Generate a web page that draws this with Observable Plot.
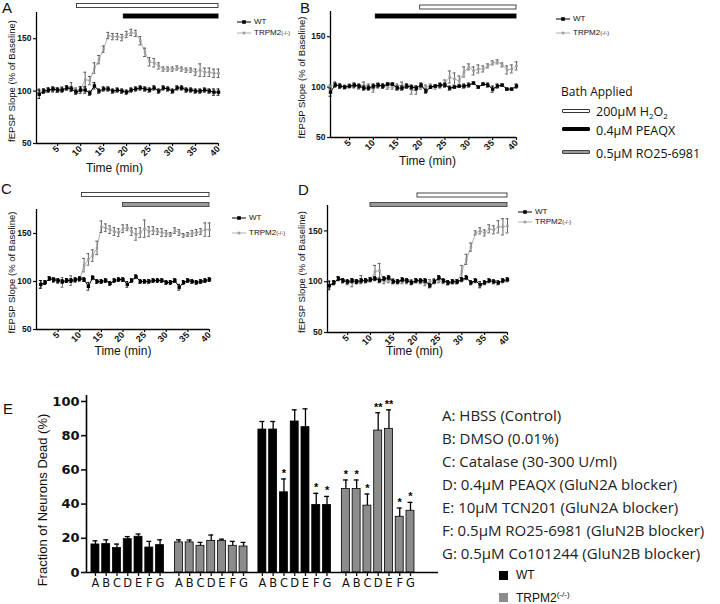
<!DOCTYPE html>
<html><head><meta charset="utf-8">
<script src="https://cdn.jsdelivr.net/npm/d3@7"></script>
<script src="https://cdn.jsdelivr.net/npm/@observablehq/plot@0.6"></script>
<style>
body{margin:0;background:#fff}
#fig{position:relative;width:720px;height:604px;overflow:hidden;background:#fff;font-family:"Liberation Sans",Arial,sans-serif;color:#111}
#fig svg{position:absolute;background:transparent}
.letter{position:absolute;font-size:15px;line-height:1}
.lg{position:absolute;font-size:8px;line-height:10px;height:10px;display:flex;align-items:center;white-space:nowrap}
.lg sup{font-size:5.5px;line-height:0;vertical-align:3px}
.lg svg{position:static !important;margin-right:3px}
.os{font-family:"Open Sans",sans-serif}
.bar{position:absolute;width:28px;height:4px;box-sizing:border-box}
.row{position:absolute;white-space:nowrap;line-height:1;transform:translateY(-50%)}
</style>
</head><body><div id="fig"></div>
<script>
// ---------- time-course data (fEPSP slope, % of baseline) ----------
const minutes = [1,2,3,4,5,6,7,8,9,10,11,12,13,14,15,16,17,18,19,20,21,22,23,24,25,26,27,28,29,30,31,32,33,34,35,36,37,38,39,40];
const xTicks = [5,10,15,20,25,30,35,40];
const yTicks = [50,100,150];

const A_WT     = [97,100,101,102,101,101,103,102,99,101,101,98,105,100,102,102,100,101,100,99,101,102,103,102,101,103,100,103,102,100,103,103,101,101,100,100,101,100,99,99];
const A_WT_err = [4,2,2,2,2,2,2,2,2,3,3,2,3,2,2,2,2,2,2,2,2,2,2,2,2,2,2,2,2,2,2,2,2,2,2,2,2,2,3,3];
const A_TR     = [100,100,101,101,101,102,103,104,101,102,111,110,122,130,140,153,152,152,151,154,156,155,148,137,128,127,124,121,121,121,122,121,120,120,118,120,118,118,117,117];
const A_TR_err = [2,2,2,2,2,2,2,4,2,2,7,4,5,4,3,3,3,3,3,3,3,3,4,4,4,4,3,2,2,2,2,2,2,2,3,6,4,4,4,4];

const B_WT     = [95,102,101,100,101,102,101,99,99,101,102,101,103,103,99,99,101,100,99,102,96,100,101,102,102,99,100,101,101,102,104,100,103,102,98,101,102,98,98,101];
const B_WT_err = [4,2,2,1,1,2,2,2,2,2,2,2,1,1,2,2,2,2,2,2,2,1,1,2,2,2,1,1,2,2,1,1,1,2,3,2,1,1,1,2];
const B_TR     = [100,103,101,100,101,101,100,102,101,98,101,101,100,100,101,102,101,97,97,100,100,101,100,101,104,110,108,106,115,120,116,118,118,121,124,125,122,117,118,121];
const B_TR_err = [2,2,2,2,2,2,2,3,2,3,2,2,2,2,2,3,2,4,4,2,2,2,2,2,3,6,6,5,5,3,4,4,3,2,2,2,2,4,4,4];

const C_WT     = [97,99,103,102,101,100,101,101,102,103,102,95,104,100,100,101,98,101,102,102,97,101,105,100,100,100,101,101,101,99,99,101,94,99,101,100,99,100,101,102];
const C_WT_err = [4,2,2,2,2,2,2,2,2,2,2,4,2,2,2,2,2,2,2,2,3,2,2,2,2,2,2,2,2,2,2,2,3,2,2,2,2,2,2,2];
const C_TR     = [97,99,103,101,100,99,101,101,101,102,117,123,127,135,157,156,154,152,151,155,156,152,149,151,155,152,153,152,151,150,149,153,151,148,149,150,151,152,154,154];
const C_TR_err = [4,2,2,2,2,5,2,5,2,2,7,6,6,7,6,4,4,4,4,4,3,4,6,5,9,5,4,3,4,3,2,3,3,2,2,3,3,3,7,7];

const D_WT     = [96,99,103,101,100,101,100,101,101,102,103,101,103,104,100,100,102,101,99,101,101,101,96,100,104,101,99,100,100,102,104,99,101,97,99,101,100,99,101,102];
const D_WT_err = [4,2,2,2,2,2,2,2,2,2,2,2,2,2,2,2,2,2,2,2,2,2,2,2,2,2,2,2,2,2,2,2,2,3,2,2,2,2,2,2];
const D_TR     = [97,99,103,101,99,99,100,102,101,102,110,111,100,101,101,100,100,100,100,101,100,98,100,101,101,100,99,100,100,110,122,134,148,150,148,152,151,154,154,155];
const D_TR_err = [4,2,2,2,2,4,2,4,2,2,6,7,2,2,2,2,2,2,2,2,2,2,2,2,2,2,2,2,2,6,5,4,2,3,3,4,4,6,8,7];

// bath application start times (min); all run to the end of recording
const A_drugs = [{drug:"H2O2", start:9.2}, {drug:"PEAQX", start:19.4}];
const B_drugs = [{drug:"H2O2", start:19.8}, {drug:"PEAQX", start:10.5}];
const C_drugs = [{drug:"H2O2", start:10.5}, {drug:"RO25", start:20}];
const D_drugs = [{drug:"H2O2", start:20.3}, {drug:"RO25", start:10}];

// ---------- panel E: fraction of neurons dead (%) ----------
const treatLetters = ["A","B","C","D","E","F","G"];
const E_groups = ["WT","TRPM2","WT","TRPM2"];
const E_mean = [
  [16.4,16.6,14.3,19.5,20.9,14.6,16.0],
  [17.6,17.6,15.6,18.5,18.5,15.6,15.2],
  [83.6,83.6,46.9,88.3,85.0,39.5,39.5],
  [48.8,48.8,39.1,83.0,84.0,32.6,36.1]
];
const E_err = [
  [2.1,2.5,2.3,1.5,1.6,3.6,3.1],
  [1.5,1.4,2.0,3.4,1.0,2.6,2.4],
  [4.7,4.7,7.8,6.8,10.7,6.8,5.0],
  [5.3,5.3,6.8,10.4,11.1,5.1,4.9]
];
const E_stars = [
  ["","","","","","",""],
  ["","","","","","",""],
  ["","","*","","","*","*"],
  ["*","*","*","**","**","*","*"]
];
const E_yTicks = [0,20,40,60,80,100];
const treatNames = [
  "A: HBSS (Control)",
  "B: DMSO (0.01%)",
  "C: Catalase (30-300 U/ml)",
  "D: 0.4\u00b5M PEAQX (GluN2A blocker)",
  "E: 10\u00b5M TCN201 (GluN2A blocker)",
  "F: 0.5\u00b5M RO25-6981 (GluN2B blocker)",
  "G: 0.5\u00b5M Co101244 (GluN2B blocker)"
];

// ---------- drawing ----------
const fig = document.getElementById("fig");
const FONT = "Liberation Sans, Arial, sans-serif";
const drugStyle = {
  H2O2:  {fill:"#fff", stroke:"#333"},
  PEAQX: {fill:"#000", stroke:"#000"},
  RO25:  {fill:"#999", stroke:"#444"}
};

function place(el, left, top){ el.style.left = left+"px"; el.style.top = top+"px"; fig.appendChild(el); return el; }

function tsPanel(c){
  const ppu = (c.h - c.mT - c.mB) / 125;
  const rows = (m, e) => minutes.map((t,i) => ({t, v:m[i], lo:m[i]-e[i], hi:m[i]+e[i]}));
  const W = rows(c.wt, c.wtE), T = rows(c.tr, c.trE);
  const caps = r => r.flatMap(d => [{t:d.t, y:d.lo}, {t:d.t, y:d.hi}]);
  const barRows = c.drugs.map(d => {
    const off = c.barOff[d.drug];
    return {x1:d.start, x2:40, y1:175 - (off-2)/ppu, y2:175 - (off+2)/ppu, ...drugStyle[d.drug]};
  });
  const series = (R, col, ecol, sw, r) => [
    Plot.line(R, {x:"t", y:"v", stroke:col, strokeWidth:sw}),
    Plot.ruleX(R, {x:"t", y1:"lo", y2:"hi", stroke:ecol, strokeWidth:0.9}),
    Plot.ruleY(caps(R), {y:"y", x1:d=>d.t-0.32, x2:d=>d.t+0.32, stroke:ecol, strokeWidth:0.9}),
    Plot.dot(R, {x:"t", y:"v", symbol:"square", r, fill:col, stroke:null})
  ];
  const svg = Plot.plot({
    width:c.w, height:c.h, marginLeft:c.mL, marginRight:c.mR, marginTop:c.mT, marginBottom:c.mB,
    x:{domain:[c.xMin,40]}, y:{domain:[50,175]},
    style:{fontFamily:FONT, background:"transparent", overflow:"visible", color:"#111"},
    marks:[
      ...barRows.map(b => Plot.rect([b], {x1:"x1", x2:"x2", y1:"y1", y2:"y2", fill:b.fill, stroke:b.stroke, strokeWidth:0.9, clip:false})),
      Plot.ruleX([c.xMin], {y1:50, y2:175, stroke:"#000", strokeWidth:1.3}),
      Plot.ruleY([50], {x1:c.xMin, x2:40, stroke:"#000", strokeWidth:1.3}),
      Plot.axisY({ticks:yTicks, tickSize:3, tickPadding:2, fontSize:8.5, fontWeight:"bold", label:null, strokeWidth:1.2}),
      Plot.axisX({ticks:xTicks, tickSize:3, tickPadding:1, tickRotate:-45, fontSize:9, fontWeight:"bold", label:null, strokeWidth:1.2}),
      ...series(T, "#9c9c9c", "#555", 0.8, 1.4),
      ...series(W, "#000", "#000", 1, 1.9),
      Plot.text(["Time (min)"], {frameAnchor:"bottom", textAnchor:"middle", dy:c.labDy, dx:c.labDx, fontSize:12}),
      Plot.text(["fEPSP Slope (% of Baseline)"], {frameAnchor:"left", textAnchor:"middle", rotate:-90, dx:-(c.mL-11), dy:c.yLabDy, fontSize:9.5})
    ]
  });
  place(svg, c.left, c.top);
}

tsPanel({left:0, top:0, w:232, h:180, mL:36, mR:14, mT:12, mB:37, xMin:0.4,
  wt:A_WT, wtE:A_WT_err, tr:A_TR, trE:A_TR_err, drugs:A_drugs, barOff:{H2O2:-6.5, PEAQX:4},
  labDx:-13, labDy:28, yLabDy:3});
tsPanel({left:290, top:0, w:232, h:175, mL:40, mR:6, mT:11, mB:38, xMin:1.0,
  wt:B_WT, wtE:B_WT_err, tr:B_TR, trE:B_TR_err, drugs:B_drugs, barOff:{H2O2:-4, PEAQX:5},
  labDx:4, labDy:27, yLabDy:3});
tsPanel({left:0, top:180, w:225, h:180, mL:36, mR:16, mT:29, mB:31, xMin:0,
  wt:C_WT, wtE:C_WT_err, tr:C_TR, trE:C_TR_err, drugs:C_drugs, barOff:{H2O2:-14.5, RO25:-4.5},
  labDx:0, labDy:25, yLabDy:3});
tsPanel({left:290, top:180, w:225, h:180, mL:37, mR:8, mT:25, mB:28, xMin:0.6,
  wt:D_WT, wtE:D_WT_err, tr:D_TR, trE:D_TR_err, drugs:D_drugs, barOff:{H2O2:-10, RO25:-0.5},
  labDx:-3, labDy:22, yLabDy:3});

// Panel E
(function(){
  const gap = 7.75;
  const rows = E_groups.flatMap((g, gi) => treatLetters.map((L, i) => ({
    geno:g, pos:gi*gap + i, letter:L, m:E_mean[gi][i], e:E_err[gi][i], star:E_stars[gi][i]})));
  const xMin = -0.83, xMax = 3*gap + 6 + 2.6;
  const letterAt = new Map(rows.map(d => [d.pos, d.letter]));
  const svg = Plot.plot({
    width:445, height:219, marginLeft:86, marginRight:7, marginTop:10, marginBottom:32,
    x:{domain:[xMin, xMax]}, y:{domain:[0,103.5]},
    style:{fontFamily:FONT, background:"transparent", overflow:"visible", color:"#111"},
    marks:[
      Plot.rect(rows.filter(d=>d.geno==="WT"), {x1:d=>d.pos-0.37, x2:d=>d.pos+0.37, y1:0, y2:"m", fill:"#000", stroke:"#000", strokeWidth:0.8}),
      Plot.rect(rows.filter(d=>d.geno!=="WT"), {x1:d=>d.pos-0.37, x2:d=>d.pos+0.37, y1:0, y2:"m", fill:"#8c8c8c", stroke:"#000", strokeWidth:0.8}),
      Plot.ruleX(rows, {x:"pos", y1:"m", y2:d=>d.m+d.e, stroke:"#000", strokeWidth:1.3}),
      Plot.ruleY(rows, {y:d=>d.m+d.e, x1:d=>d.pos-0.23, x2:d=>d.pos+0.23, stroke:"#000", strokeWidth:1.3}),
      Plot.text(rows.filter(d=>d.star), {x:"pos", y:d=>d.m+d.e, text:"star", dy:-2, lineAnchor:"bottom", fontSize:11, fill:"#000", fontFamily:"Liberation Sans, sans-serif", fontWeight:"bold"}),
      Plot.ruleX([xMin], {y1:0, y2:103.5, stroke:"#000", strokeWidth:1.6}),
      Plot.ruleY([0], {x1:xMin, x2:xMax, stroke:"#000", strokeWidth:1.6}),
      Plot.axisY({ticks:E_yTicks, tickSize:5, tickPadding:2, fontSize:13, fontWeight:"bold", fontFamily:"DejaVu Sans, sans-serif", label:null, strokeWidth:1.6}),
      Plot.axisX({ticks:rows.map(d=>d.pos), tickFormat:d=>letterAt.get(d), tickSize:4, tickPadding:2, fontSize:11.5, fontFamily:"DejaVu Sans, sans-serif", label:null, strokeWidth:1.3}),
      Plot.text(["Fraction of Neurons Dead (%)"], {frameAnchor:"left", textAnchor:"middle", rotate:-90, dx:-44, dy:16, fontSize:13})
    ]
  });
  place(svg, 0, 385);
})();

// panel letters
[["A",2,0],["B",300,0],["C",1,181],["D",298,182],["E",3,401]].forEach(([t,x,y])=>{
  const d=document.createElement("div"); d.className="letter"; d.textContent=t; place(d,x,y);
});

// series legends for A-D
function seriesLegend(left, yWT, yTR){
  const mk = (y, html, col, r) => {
    const d=document.createElement("div"); d.className="lg";
    d.innerHTML = `<svg width="14" height="6" viewBox="0 0 14 6"><line x1="0" y1="3" x2="14" y2="3" stroke="${col}" stroke-width="${col==='#000'?1:0.8}"/><rect x="${7-r}" y="${3-r}" width="${2*r}" height="${2*r}" fill="${col}"/></svg>${html}`;
    place(d, left, y-5);
  };
  mk(yWT, "WT", "#000", 1.8);
  mk(yTR, "TRPM2<sup>(-/-)</sup>", "#9c9c9c", 1.3);
}
seriesLegend(237, 22, 33);
seriesLegend(556, 19, 33);
seriesLegend(232, 218, 233);
seriesLegend(518, 212, 222);

// Bath applied legend
(function(){
  const t=document.createElement("div"); t.className="row os"; t.style.fontSize="12px"; t.textContent="Bath Applied"; place(t,561,92);
  const items=[["H2O2",111,"200\u00b5M H<sub style='font-size:8px'>2</sub>O<sub style='font-size:8px'>2</sub>",113],
               ["PEAQX",129,"0.4\u00b5M PEAQX",131],["RO25",151.5,"0.5\u00b5M RO25-6981",154]];
  items.forEach(([k,yb,html,yt])=>{
    const b=document.createElement("div"); b.className="bar";
    b.style.background=drugStyle[k].fill; b.style.border="1px solid "+drugStyle[k].stroke; b.style.borderRadius="1px";
    place(b,562,yb-2);
    const s=document.createElement("div"); s.className="row os"; s.style.fontSize="12.5px"; s.innerHTML=html; place(s,596,yt);
  });
})();

// treatment key
treatNames.forEach((n,i)=>{
  const d=document.createElement("div"); d.className="row os"; d.style.fontSize="15px"; d.style.color="#222"; d.textContent=n; place(d,442,415+i*23);
});

// genotype legend for E
(function(){
  [["WT","#000",575],["TRPM2<sup style='font-size:8px;vertical-align:5px'>(-/-)</sup>","#8c8c8c",597]].forEach(([h,c,y])=>{
    const sq=document.createElement("div"); sq.style.position="absolute"; sq.style.width="9px"; sq.style.height="9px"; sq.style.background=c; place(sq,499,y-4.5);
    const t=document.createElement("div"); t.className="row"; t.style.fontSize="12px"; t.innerHTML=h; place(t,516,y);
  });
})();
</script>
</body></html>
